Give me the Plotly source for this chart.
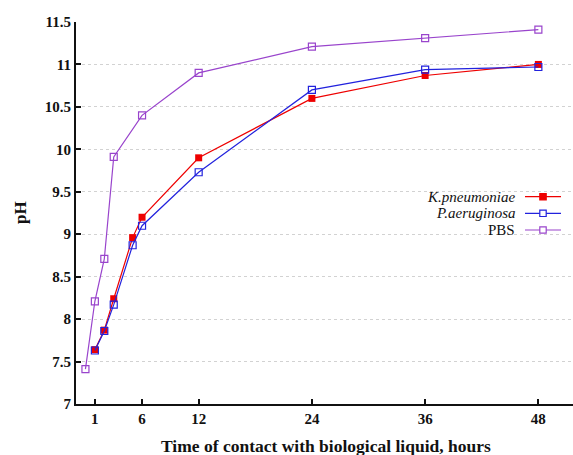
import plotly.graph_objects as go

hours = [1, 2, 3, 5, 6, 12, 24, 36, 48]
k_pneumoniae = [7.64, 7.87, 8.24, 8.96, 9.20, 9.90, 10.60, 10.87, 11.00]
p_aeruginosa = [7.63, 7.86, 8.17, 8.87, 9.10, 9.73, 10.70, 10.94, 10.97]
pbs_hours = [0, 1, 2, 3, 6, 12, 24, 36, 48]
pbs = [7.41, 8.21, 8.71, 9.91, 10.40, 10.90, 11.21, 11.31, 11.41]

x_ticks = [1, 6, 12, 24, 36, 48]
y_ticks = [7, 7.5, 8, 8.5, 9, 9.5, 10, 10.5, 11, 11.5]
y_tick_text = ["7", "7.5", "8", "8.5", "9", "9.5", "10", "10.5", "11", "11.5"]

series_names = ["K.pneumoniae", "P.aeruginosa", "PBS"]
series_labels = ["<i>K.pneumoniae</i>", "<i>P.aeruginosa</i>", "PBS"]
colors = ["#ee0000", "#2222dd", "#9944cc"]

W, H = 573, 455
L, R, T, B = 76, 0, 22, 51
PW, PH = W - L - R, H - T - B

def px(x):
    return (x - L) / PW

def py(y):
    return 1 - (y - T) / PH

FONT = "Liberation Serif"

fig = go.Figure()
fig.add_trace(go.Scatter(x=pbs_hours, y=pbs, mode="lines+markers", name=series_names[2],
                         line=dict(color=colors[2], width=1.2),
                         marker=dict(symbol="square-open", size=7, color=colors[2], line=dict(width=1.2))))
fig.add_trace(go.Scatter(x=hours, y=k_pneumoniae, mode="lines+markers", name=series_names[0],
                         line=dict(color=colors[0], width=1.2),
                         marker=dict(symbol="square", size=7, color=colors[0])))
fig.add_trace(go.Scatter(x=hours, y=p_aeruginosa, mode="lines+markers", name=series_names[1],
                         line=dict(color=colors[1], width=1.2),
                         marker=dict(symbol="square-open", size=7, color=colors[1], line=dict(width=1.2))))

# manual legend (text on the left, sample on the right)
shapes = []
annotations = []
leg_y = [196.7, 213.3, 230.0]
for i in range(3):
    yy = leg_y[i]
    annotations.append(dict(xref="paper", yref="paper", x=px(517), y=py(yy), xanchor="right", yanchor="middle",
                            text=series_labels[i], showarrow=False,
                            font=dict(family=FONT, size=15, color="#111")))
    shapes.append(dict(type="line", xref="paper", yref="paper", x0=px(525), x1=px(561), y0=py(yy), y1=py(yy),
                       line=dict(color=colors[i], width=1.2)))
    s = 3.2
    shapes.append(dict(type="rect", xref="paper", yref="paper", x0=px(543 - s), x1=px(543 + s),
                       y0=py(yy + s), y1=py(yy - s),
                       line=dict(color=colors[i], width=1.2),
                       fillcolor=colors[i] if i == 0 else "white"))

# axis titles as annotations for exact placement
annotations.append(dict(xref="paper", yref="paper", x=px(326), y=py(446), xanchor="center", yanchor="middle",
                        text="<b>Time of contact with biological liquid, hours</b>", showarrow=False,
                        font=dict(family=FONT, size=17.5, color="#111")))
annotations.append(dict(xref="paper", yref="paper", x=px(20), y=py(213), xanchor="center", yanchor="middle",
                        text="<b>pH</b>", showarrow=False, textangle=-90,
                        font=dict(family=FONT, size=17, color="#111")))

fig.update_layout(
    width=W, height=H,
    margin=dict(l=L, r=R, t=T, b=B, autoexpand=False),
    paper_bgcolor="white", plot_bgcolor="white",
    showlegend=False,
    shapes=shapes, annotations=annotations,
    font=dict(family=FONT, size=14, color="#111"),
    xaxis=dict(range=[-1.0, 51.67], tickvals=x_ticks, ticktext=["<b>%s</b>" % v for v in x_ticks],
               showgrid=False, zeroline=False, showline=True, linecolor="#111", linewidth=2,
               ticks="inside", ticklen=5, tickwidth=1.5, tickcolor="#111", automargin=False,
               tickfont=dict(family=FONT, size=15)),
    yaxis=dict(range=[7, 11.5], tickvals=y_ticks, ticktext=["<b>%s</b>" % t for t in y_tick_text],
               showgrid=True, gridcolor="#d2d2d2", griddash="dot", gridwidth=1,
               zeroline=False, showline=True, linecolor="#111", linewidth=2,
               ticks="inside", ticklen=5, tickwidth=1.5, tickcolor="#111", automargin=False,
               tickfont=dict(family=FONT, size=15)),
)

fig.write_html("out.html", config={"displayModeBar": False},
               post_script="document.body.style.margin='0';document.body.style.overflow='hidden';")
